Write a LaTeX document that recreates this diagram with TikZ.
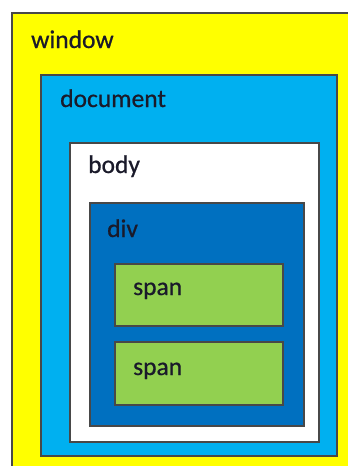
\documentclass[tikz,border=0pt]{standalone}
\usepackage{fontspec}
\setmainfont{Carlito}
\newfontfamily\lblfont{Carlito}[FakeBold=0.7]
\definecolor{winyellow}{HTML}{FFFF00}
\definecolor{docblue}{HTML}{00B0F0}
\definecolor{divblue}{HTML}{0070C0}
\definecolor{spangreen}{HTML}{92D050}
\definecolor{edge}{HTML}{484848}
\definecolor{labeltext}{HTML}{1A1A2A}
\tikzset{
  layer/.style={draw=edge, line width=1.3pt},
  lbl/.style={anchor=base west, inner sep=0pt, text=labeltext,
    font=\lblfont\fontsize{25.5}{28}\selectfont}
}
\begin{document}
\begin{tikzpicture}[x=1pt,y=-1pt]
\useasboundingbox (0,0) rectangle (348,466);
\fill[white] (0,0) rectangle (348,466);
\begin{scope}
\clip (0,0) rectangle (348,466);
% nested boxes, outermost first
\draw[layer, fill=winyellow] (12,13) rectangle (352,472);
\draw[layer, fill=docblue] (41,75) rectangle (337,456);
\draw[layer, fill=white] (70,143) rectangle (319,442);
\draw[layer, fill=divblue] (90,203) rectangle (304,426);
\draw[layer, fill=spangreen] (115,264) rectangle (283,326);
\draw[layer, fill=spangreen] (115,342) rectangle (283,405);
\end{scope}
% labels
\node[lbl] (window) at (31,48) {window};
\node[lbl] (document) at (60,107) {document};
\node[lbl] (body) at (88,173) {body};
\node[lbl] (div) at (107,237) {div};
\node[lbl] (span1) at (133,295) {span};
\node[lbl] (span2) at (133,375) {span};
\end{tikzpicture}
\end{document}
